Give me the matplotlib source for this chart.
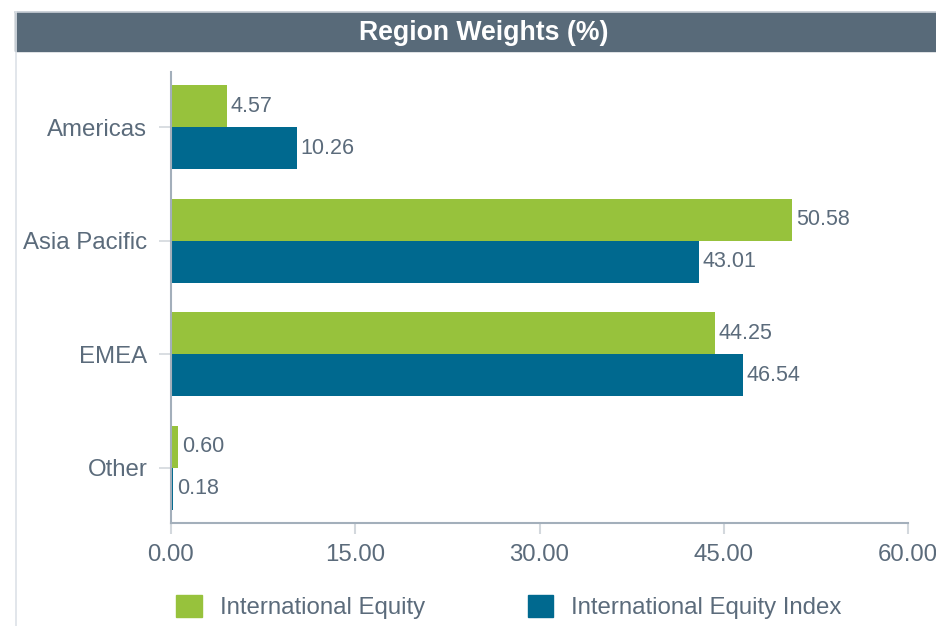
import matplotlib
matplotlib.use("Agg")
import matplotlib.pyplot as plt
from matplotlib.patches import Rectangle, Patch
from matplotlib.lines import Line2D
import numpy as np

plt.rcParams['font.family'] = ['Liberation Sans', 'DejaVu Sans']

categories = ["Americas", "Asia Pacific", "EMEA", "Other"]
fund = [4.57, 50.58, 44.25, 0.60]
index = [10.26, 43.01, 46.54, 0.18]
series_names = ["International Equity", "International Equity Index"]
xticks = [0, 15, 30, 45, 60]

green = "#97c23c"
blue = "#00698f"
text_c = "#5b6b7b"
spine_c = "#a3afbb"

fig = plt.figure(figsize=(9.36, 6.26), dpi=100)
W, H = 936, 626

# title bar + frame
fig.patches.append(Rectangle((15 / W, 1 - 51 / H), 1 - 15 / W, 39 / H,
                             transform=fig.transFigure, color="#586a79", zorder=0))
fig.add_artist(Line2D([15 / W, 1], [1 - 11.5 / H] * 2, color="#c9d0d7", lw=1.2))
fig.add_artist(Line2D([15.5 / W] * 2, [0, 1 - 12 / H], color="#dde2e7", lw=1.2))
fig.text(484 / W, 1 - 33 / H, "Region Weights (%)", ha="center", va="center",
         color="white", fontsize=19.2, fontweight="bold")

ax = fig.add_axes([171 / W, 1 - 523 / H, 737 / W, 451 / H])
y = np.arange(len(categories))
h = 0.37
b1 = ax.barh(y - h / 2, fund, height=h, color=green, label=series_names[0])
b2 = ax.barh(y + h / 2, index, height=h, color=blue, label=series_names[1])
for bars, vals in ((b1, fund), (b2, index)):
    for r, v in zip(bars, vals):
        ax.text(v + 0.3, r.get_y() + r.get_height() / 2, f"{v:.2f}",
                va="center", ha="left", fontsize=15.5, color=text_c)

ax.set_xlim(0, 60)
ax.set_ylim(len(categories) - 1 + 0.485, -0.485)
ax.set_xticks(xticks)
ax.set_xticklabels([f"{t:.2f}" for t in xticks])
ax.set_yticks(y)
ax.set_yticklabels(categories)
for s in ("top", "right"):
    ax.spines[s].set_visible(False)
for s in ("left", "bottom"):
    ax.spines[s].set_color(spine_c)
    ax.spines[s].set_linewidth(1.5)
ax.tick_params(axis="x", length=8, width=1.5, color="#d3d8dd", pad=7,
               labelsize=17.3, labelcolor=text_c)
ax.tick_params(axis="y", length=9, width=1.2, color="#d3d8dd", pad=8,
               labelsize=17.3, labelcolor=text_c)

handles = [Patch(color=green), Patch(color=blue)]
leg = fig.legend(handles, series_names, loc="center", bbox_to_anchor=(509 / W, 1 - 607 / H),
                 ncol=2, frameon=False, fontsize=17.3, handlelength=1.05, handleheight=1.05,
                 handletextpad=0.75, columnspacing=4.3, labelcolor=text_c)

fig.savefig("out.png", dpi=100)
